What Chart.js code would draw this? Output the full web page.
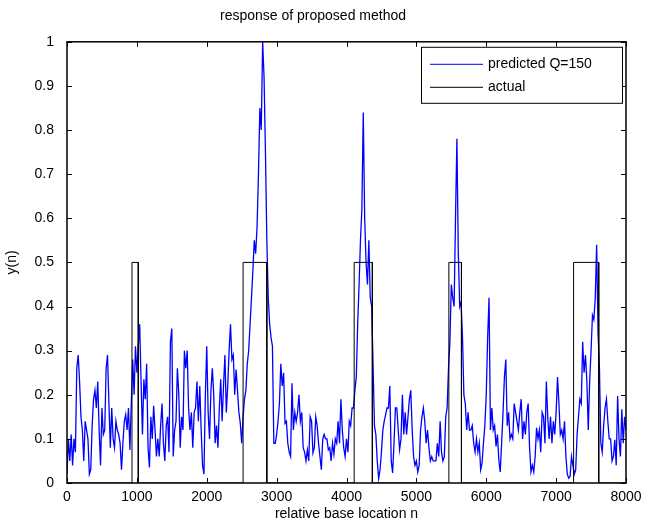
<!DOCTYPE html>
<html>
<head>
<meta charset="utf-8">
<script src="https://cdn.jsdelivr.net/npm/chart.js@4.4.0/dist/chart.umd.min.js"></script>
<style>
  html, body { margin: 0; padding: 0; background: #fff; }
</style>
</head>
<body>
<canvas id="chart" width="646" height="524"></canvas>
<script>
// sample spacing of the predicted response (relative base location)
const STEP = 20;

// predicted Q=150, one value every STEP from n=0 to n=8000 (one row per 1000)
const predicted = [
  0.02, 0.10, 0.05, 0.11, 0.04, 0.10, 0.07, 0.26, 0.29, 0.23, 0.15, 0.12, 0.05, 0.14, 0.12, 0.10, 0.02, 0.03, 0.13, 0.19,
  0.21, 0.17, 0.23, 0.12, 0.04, 0.17, 0.11, 0.12, 0.26, 0.29, 0.18, 0.08, 0.17, 0.10, 0.08, 0.14, 0.12, 0.11, 0.09, 0.03,
  0.09, 0.14, 0.155, 0.12, 0.17, 0.075, 0.18, 0.28, 0.20, 0.31,

  0.25, 0.31, 0.36, 0.23, 0.11, 0.235, 0.19, 0.27, 0.08, 0.035, 0.15, 0.10, 0.175, 0.12, 0.06, 0.10, 0.06, 0.13, 0.18, 0.09,
  0.05, 0.13, 0.15, 0.07, 0.32, 0.35, 0.06, 0.12, 0.14, 0.26, 0.20, 0.08, 0.15, 0.12, 0.30, 0.26, 0.30, 0.17, 0.12, 0.16,
  0.08, 0.16, 0.17, 0.23, 0.14, 0.22, 0.12, 0.04, 0.02, 0.20,

  0.31, 0.16, 0.10, 0.21, 0.26, 0.20, 0.09, 0.13, 0.08, 0.17, 0.235, 0.14, 0.22, 0.29, 0.16, 0.22, 0.30, 0.36, 0.28, 0.29,
  0.20, 0.257, 0.21, 0.16, 0.136, 0.09, 0.15, 0.19, 0.21, 0.27, 0.30, 0.36, 0.42, 0.48, 0.55, 0.52, 0.58, 0.70, 0.85, 0.80,
  1.00, 0.92, 0.75, 0.55, 0.42, 0.36, 0.33, 0.31, 0.09, 0.09,

  0.11, 0.14, 0.18, 0.27, 0.22, 0.25, 0.135, 0.14, 0.09, 0.07, 0.06, 0.226, 0.12, 0.16, 0.14, 0.16, 0.20, 0.14, 0.16, 0.08,
  0.07, 0.05, 0.075, 0.05, 0.15, 0.14, 0.068, 0.08, 0.15, 0.13, 0.09, 0.06, 0.03, 0.10, 0.11, 0.10, 0.10, 0.075, 0.08, 0.05,
  0.09, 0.065, 0.10, 0.09, 0.14, 0.09, 0.19, 0.12, 0.08, 0.06,

  0.10, 0.07, 0.14, 0.13, 0.17, 0.17, 0.21, 0.24, 0.36, 0.45, 0.55, 0.62, 0.84, 0.60, 0.50, 0.45, 0.55, 0.42, 0.40, 0.27,
  0.13, 0.11, 0.05, 0.01, 0.03, 0.07, 0.12, 0.14, 0.155, 0.17, 0.17, 0.22, 0.05, 0.023, 0.09, 0.17, 0.17, 0.12, 0.076, 0.10,
  0.20, 0.11, 0.16, 0.11, 0.15, 0.19, 0.21, 0.12, 0.06, 0.04,

  0.05, 0.025, 0.04, 0.12, 0.15, 0.17, 0.14, 0.09, 0.12, 0.08, 0.05, 0.06, 0.05, 0.05, 0.05, 0.09, 0.06, 0.14, 0.07, 0.05,
  0.06, 0.15, 0.17, 0.26, 0.32, 0.45, 0.42, 0.40, 0.60, 0.78, 0.52, 0.40, 0.41, 0.33, 0.20, 0.18, 0.12, 0.16, 0.12, 0.12,
  0.13, 0.09, 0.07, 0.10, 0.07, 0.09, 0.03, 0.045, 0.09, 0.13,

  0.20, 0.33, 0.42, 0.12, 0.17, 0.12, 0.13, 0.083, 0.11, 0.052, 0.025, 0.09, 0.16, 0.24, 0.28, 0.13, 0.16, 0.10, 0.11, 0.10,
  0.18, 0.16, 0.14, 0.12, 0.16, 0.19, 0.10, 0.14, 0.11, 0.16, 0.18, 0.08, 0.025, 0.04, 0.025, 0.06, 0.125, 0.10, 0.12, 0.07,
  0.16, 0.15, 0.09, 0.23, 0.15, 0.10, 0.15, 0.09, 0.14, 0.11,

  0.16, 0.24, 0.18, 0.11, 0.12, 0.10, 0.14, 0.06, 0.02, 0.011, 0.015, 0.06, 0.04, 0.02, 0.03, 0.11, 0.15, 0.19, 0.18, 0.32,
  0.25, 0.29, 0.23, 0.12, 0.23, 0.30, 0.38, 0.37, 0.42, 0.54, 0.34, 0.26, 0.09, 0.07, 0.13, 0.17, 0.19, 0.14, 0.10, 0.10,
  0.05, 0.06, 0.098, 0.04, 0.197, 0.10, 0.06, 0.167, 0.09, 0.15,

  0.12
];

// actual: rectangular pulses
const pulseStart = [930, 2520, 4110, 5465, 7250];
const pulseEnd   = [1020, 2860, 4370, 5645, 7610];
const pulseLevel = 0.5;
const nMax = 8000;

const xTicks = [0, 1000, 2000, 3000, 4000, 5000, 6000, 7000, 8000];
const xTickLabels = ['0', '1000', '2000', '3000', '4000', '5000', '6000', '7000', '8000'];
const yTicks = [0, 0.1, 0.2, 0.3, 0.4, 0.5, 0.6, 0.7, 0.8, 0.9, 1];
const yTickLabels = ['0', '0.1', '0.2', '0.3', '0.4', '0.5', '0.6', '0.7', '0.8', '0.9', '1'];

const FONT = { family: "'Liberation Sans', Arial, Helvetica, sans-serif", size: 14 };
const TICK = 5;

const predictedPts = predicted.map((v, i) => ({ x: i * STEP, y: v }));

const actualPts = [{ x: 0, y: 0 }];
pulseStart.forEach((s, i) => {
    actualPts.push({ x: s, y: 0 }, { x: s, y: pulseLevel },
                   { x: pulseEnd[i], y: pulseLevel }, { x: pulseEnd[i], y: 0 });
});
actualPts.push({ x: nMax, y: 0 });

// box, inward ticks on all four sides, legend
const matlabFrame = {
    id: 'matlabFrame',
    afterDraw(chart) {
        const { ctx, chartArea: a, scales: { x, y } } = chart;
        ctx.save();
        ctx.strokeStyle = '#000';
        ctx.lineWidth = 1.5;
        ctx.strokeRect(a.left, a.top, a.right - a.left, a.bottom - a.top);

        ctx.lineWidth = 1;
        ctx.beginPath();
        xTicks.forEach(v => {
            const px = Math.round(x.getPixelForValue(v)) + 0.5;
            ctx.moveTo(px, a.bottom); ctx.lineTo(px, a.bottom - TICK);
            ctx.moveTo(px, a.top); ctx.lineTo(px, a.top + TICK);
        });
        yTicks.forEach(v => {
            const py = Math.round(y.getPixelForValue(v)) + 0.5;
            ctx.moveTo(a.left, py); ctx.lineTo(a.left + TICK, py);
            ctx.moveTo(a.right, py); ctx.lineTo(a.right - TICK, py);
        });
        ctx.stroke();

        // legend box
        const bx = a.right - 205, by = a.top + 5, bw = 201, bh = 56;
        ctx.fillStyle = '#fff';
        ctx.fillRect(bx, by, bw, bh);
        ctx.lineWidth = 1;
        ctx.strokeRect(bx + 0.5, by + 0.5, bw, bh);
        ctx.font = FONT.size + 'px ' + FONT.family;
        ctx.textBaseline = 'middle';
        ctx.textAlign = 'left';
        chart.data.datasets.forEach((ds, i) => {
            const ly = by + 17 + i * 23;
            ctx.strokeStyle = ds.borderColor;
            ctx.beginPath();
            ctx.moveTo(bx + 9, ly + 0.5);
            ctx.lineTo(bx + 62, ly + 0.5);
            ctx.stroke();
            ctx.fillStyle = '#000';
            ctx.fillText(ds.label, bx + 67, ly);
        });
        ctx.restore();
    }
};

new Chart(document.getElementById('chart'), {
    type: 'line',
    data: {
        datasets: [
            { label: 'predicted Q=150', data: predictedPts, borderColor: '#0000ff',
              borderWidth: 1.3, pointRadius: 0, tension: 0, order: 1 },
            { label: 'actual', data: actualPts, borderColor: '#000000',
              borderWidth: 1, pointRadius: 0, tension: 0, order: 0 }
        ]
    },
    options: {
        responsive: false,
        animation: false,
        events: [],
        layout: { padding: { left: 0, right: 20, top: 0, bottom: 0 } },
        plugins: {
            legend: { display: false },
            tooltip: { enabled: false },
            title: {
                display: true,
                text: 'response of proposed method',
                color: '#000',
                font: { ...FONT, weight: 'normal' },
                padding: { top: 8, bottom: 17 }
            }
        },
        scales: {
            x: {
                type: 'linear',
                min: 0,
                max: nMax,
                grid: { display: false },
                border: { display: false },
                afterBuildTicks: s => { s.ticks = xTicks.map(v => ({ value: v })); },
                afterFit: s => { s.height = 41; },
                ticks: { color: '#000', font: FONT, padding: -2, maxRotation: 0, autoSkip: false,
                         callback: (v, i) => xTickLabels[i] },
                title: { display: true, text: 'relative base location n', color: '#000',
                         font: { ...FONT, lineHeight: 1 }, padding: { top: 0, bottom: 3 } }
            },
            y: {
                min: 0,
                max: 1,
                grid: { display: false },
                border: { display: false },
                afterBuildTicks: s => { s.ticks = yTicks.map(v => ({ value: v })); },
                afterFit: s => { s.width = 67; },
                ticks: { color: '#000', font: FONT, padding: 5, autoSkip: false,
                         callback: (v, i) => yTickLabels[i] },
                title: { display: true, text: 'y(n)', color: '#000', font: FONT,
                         padding: { top: 4, bottom: 0 } }
            }
        }
    },
    plugins: [matlabFrame]
});
</script>
</body>
</html>
